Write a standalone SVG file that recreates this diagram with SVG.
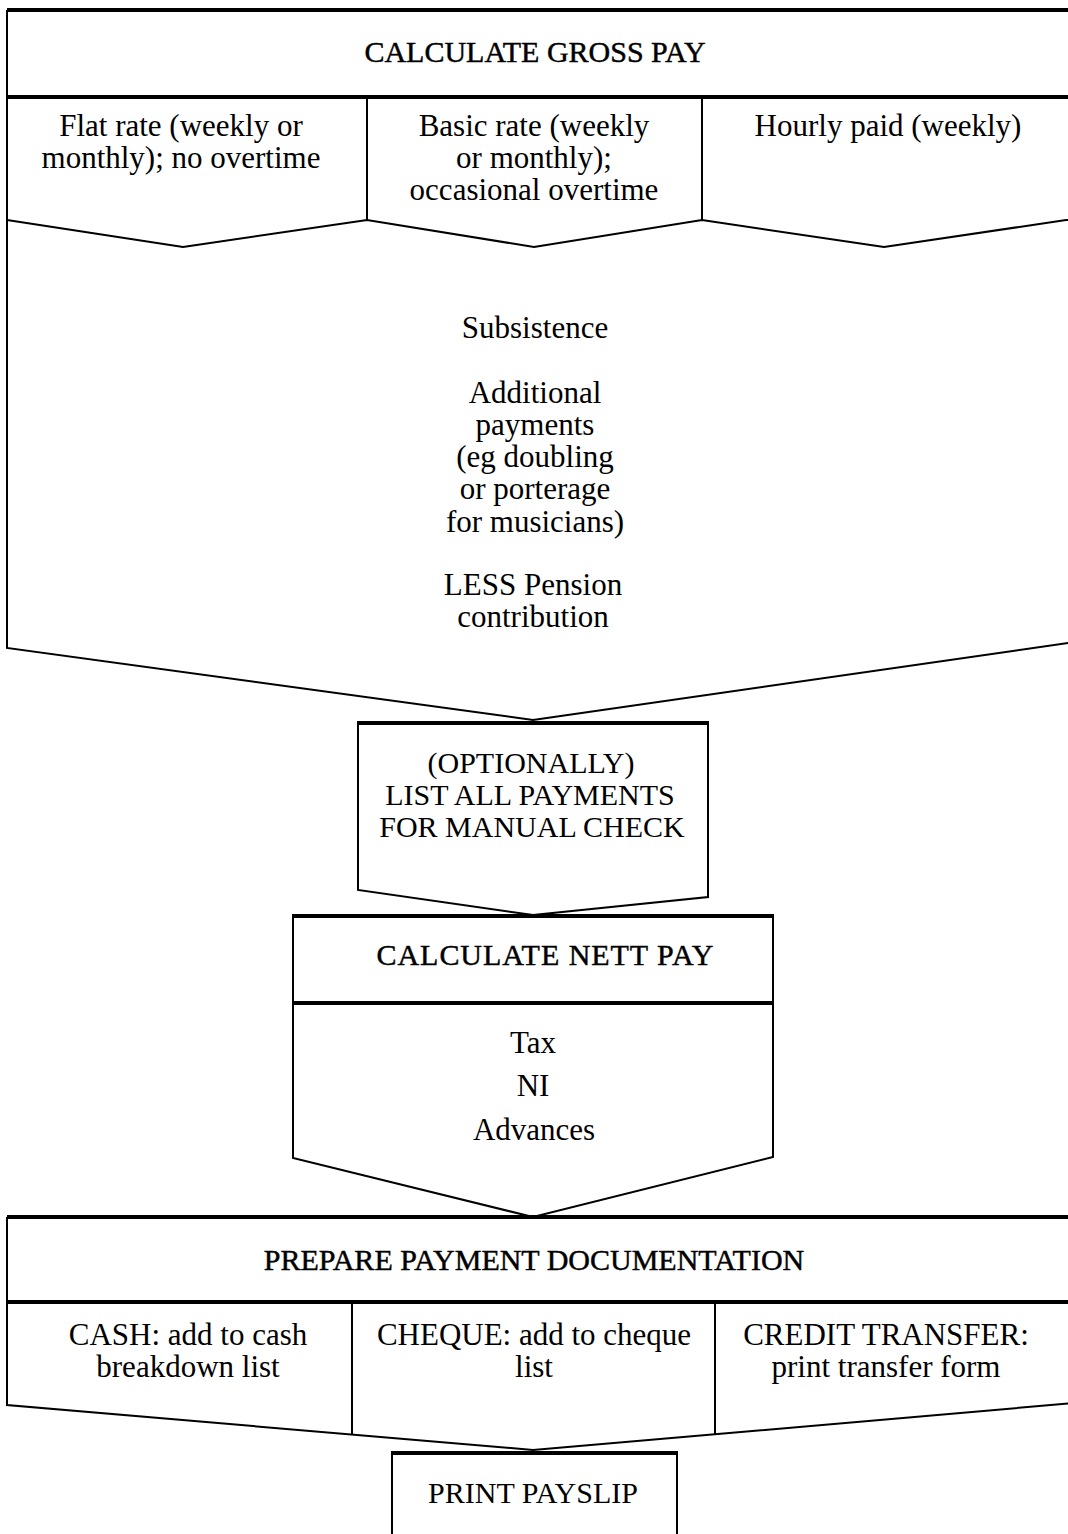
<svg xmlns="http://www.w3.org/2000/svg" width="1068" height="1534" viewBox="0 0 1068 1534">
  <style>
    .bg { fill: #ffffff; }
    .edge { fill: none; stroke: #000; stroke-width: 2; stroke-linejoin: miter; }
    .rule { fill: none; stroke: #000; stroke-width: 4; }
    .t { font-family: "Liberation Serif", "Times New Roman", serif; font-size: 31px; fill: #000; text-anchor: middle; }
    .cap { font-size: 30px; }
    .hd { font-size: 30px; stroke: #000; stroke-width: 0.45; }
  </style>
  <rect class="bg" x="0" y="0" width="1068" height="1534"/>

  <!-- Stage 1: gross pay -->
  <g id="calculate-gross-pay">
    <path class="edge" d="M7,10 L7,648 L533,720 L1075,642"/>
    <line class="rule" x1="7" y1="10" x2="1075" y2="10"/>
    <line class="rule" x1="7" y1="97" x2="1075" y2="97"/>
    <text class="t hd" x="535" y="62">CALCULATE GROSS PAY</text>
    <g id="gross-options">
      <line class="edge" x1="367" y1="97" x2="367" y2="220"/>
      <line class="edge" x1="702" y1="97" x2="702" y2="220"/>
      <polyline class="edge" points="7,220 183,247 367,220 534,247 702,220 884,247 1066,220 1075,220"/>
      <text class="t" x="181" y="136">Flat rate (weekly or</text>
      <text class="t" x="181" y="168">monthly); no overtime</text>
      <text class="t" x="534" y="136">Basic rate (weekly</text>
      <text class="t" x="534" y="168">or monthly);</text>
      <text class="t" x="534" y="200">occasional overtime</text>
      <text class="t" x="888" y="136">Hourly paid (weekly)</text>
    </g>
    <g id="gross-additions">
      <text class="t" x="535" y="338">Subsistence</text>
      <text class="t" x="535" y="403">Additional</text>
      <text class="t" x="535" y="435">payments</text>
      <text class="t" x="535" y="467">(eg doubling</text>
      <text class="t" x="535" y="499">or porterage</text>
      <text class="t" x="535" y="532">for musicians)</text>
      <text class="t" x="533" y="595">LESS Pension</text>
      <text class="t" x="533" y="627">contribution</text>
    </g>
  </g>

  <!-- Stage 2: optional check listing -->
  <g id="list-payments">
    <path class="edge" d="M358,723 L358,890 L533,915 L708,897 L708,723"/>
    <line class="rule" x1="357" y1="723" x2="709" y2="723"/>
    <text class="t cap" x="531" y="773">(OPTIONALLY)</text>
    <text class="t cap" x="530" y="805">LIST ALL PAYMENTS</text>
    <text class="t cap" x="532" y="837">FOR MANUAL CHECK</text>
  </g>

  <!-- Stage 3: nett pay -->
  <g id="calculate-nett-pay">
    <path class="edge" d="M293,916 L293,1158 L533,1217 L773,1157 L773,916"/>
    <line class="rule" x1="292" y1="916" x2="774" y2="916"/>
    <line class="rule" x1="292" y1="1003" x2="774" y2="1003"/>
    <text class="t hd" x="545" y="965" textLength="337" lengthAdjust="spacing">CALCULATE  NETT  PAY</text>
    <text class="t" x="533" y="1053">Tax</text>
    <text class="t" x="533" y="1096">NI</text>
    <text class="t" x="534" y="1140">Advances</text>
  </g>

  <!-- Stage 4: payment documents -->
  <g id="prepare-documentation">
    <path class="edge" d="M7,1217 L7,1405 L533,1450 L1075,1403"/>
    <line class="rule" x1="7" y1="1217" x2="1075" y2="1217"/>
    <line class="rule" x1="7" y1="1302" x2="1075" y2="1302"/>
    <text class="t hd" x="534" y="1270">PREPARE PAYMENT DOCUMENTATION</text>
    <g id="payment-methods">
      <line class="edge" x1="352" y1="1302" x2="352" y2="1435"/>
      <line class="edge" x1="715" y1="1302" x2="715" y2="1434"/>
      <text class="t" x="188" y="1345">CASH: add to cash</text>
      <text class="t" x="188" y="1377">breakdown list</text>
      <text class="t" x="534" y="1345">CHEQUE: add to cheque</text>
      <text class="t" x="534" y="1377">list</text>
      <text class="t" x="886" y="1345">CREDIT TRANSFER:</text>
      <text class="t" x="886" y="1377">print transfer form</text>
    </g>
  </g>

  <!-- Stage 5: payslip -->
  <g id="print-payslip">
    <path class="edge" d="M392,1540 L392,1453 M677,1453 L677,1540"/>
    <line class="rule" x1="391" y1="1453" x2="678" y2="1453"/>
    <text class="t cap" x="533" y="1503">PRINT PAYSLIP</text>
  </g>

  <!-- Stages hand on to each other at the chevron tips; no separate links -->
  <g id="connectors"/>
</svg>
